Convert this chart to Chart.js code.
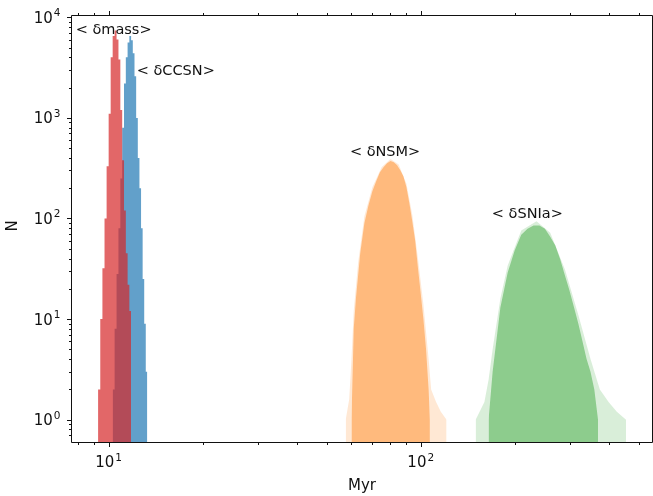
<!DOCTYPE html>
<html>
<head>
<meta charset="utf-8">
<script src="https://cdn.jsdelivr.net/npm/chart.js@4/dist/chart.umd.min.js"></script>
<style>
  html, body { margin: 0; padding: 0; background: #fff; overflow: hidden; }
  canvas { display: block; }
</style>
</head>
<body>
<canvas id="grafico" width="653" height="496"></canvas>
<script>
// <δmass> histogram: left bin edges (Myr) and counts, last edge closes the last bin
const massEdges = [9.25, 9.40, 9.55, 9.70, 9.85, 10.00, 10.15, 10.30, 10.45, 10.60, 10.75, 10.90, 11.05, 11.20, 11.35, 11.50, 11.65, 11.80];
const massCounts = [2, 10, 32, 100, 330, 1100, 4000, 6500, 7400, 6000, 3800, 1200, 380, 120, 45, 22, 12];

// <δCCSN> histogram
const ccsnEdges = [10.30, 10.45, 10.60, 10.75, 10.90, 11.05, 11.20, 11.35, 11.50, 11.65, 11.80, 11.95, 12.10, 12.25, 12.40, 12.55, 12.70, 12.85, 13.00, 13.15, 13.30];
const ccsnCounts = [2, 8, 28, 80, 250, 800, 2200, 4000, 5600, 6500, 5900, 4400, 2600, 1000, 400, 200, 80, 25, 9, 3];

// <δNSM>: dense core and the faint spread of the runs around it
const nsmMyr = [60, 61, 62, 64, 66, 68, 70, 72, 74, 76, 78, 80, 82, 84, 86, 88, 90, 92, 94, 96, 98, 100, 102, 104, 106, 107];
const nsmN = [1, 8, 16, 45, 90, 135, 186, 234, 288, 324, 355, 372, 363, 339, 302, 263, 204, 141, 93, 60, 32, 18, 10, 5, 2, 1];
const nsmHaloMyr = [57.5, 59, 60, 61, 63, 66, 70, 75, 80, 85, 90, 94, 98, 102, 106, 108, 112, 116, 121];
const nsmHaloN = [1, 1.6, 4, 12, 36, 105, 205, 325, 390, 345, 222, 108, 40, 14, 4, 2, 1.5, 1.2, 1];

// <δSNIa>
const sniaMyr = [165, 170, 180, 190, 200, 210, 220, 230, 240, 250, 260, 270, 280, 290, 300, 310, 320, 330, 340, 350, 360, 370];
const sniaN = [1, 3, 13, 29, 48, 69, 79, 85, 85, 79, 66, 54, 39, 27, 19, 13, 9, 6, 4, 3, 2, 1];
const sniaHaloMyr = [150, 160, 165, 170, 180, 190, 210, 235, 260, 290, 320, 350, 375, 400, 425, 455];
const sniaHaloN = [1, 1.5, 2.5, 5, 16, 34, 76, 94, 72, 31, 11, 4, 2, 1.5, 1.2, 1];

// text next to each peak
const peakLabels = ["< δmass>", "< δCCSN>", "< δNSM>", "< δSNIa>"];
const peakLabelMyr = [7.84, 12.3, 59.3, 169];
const peakLabelN = [7480, 2900, 452, 111];

// axes
const xRange = [7.63, 551];
const yRange = [0.63, 10300];
const xMajorTicks = [10, 100];
const yMajorTicks = [1, 10, 100, 1000, 10000];
const xTitle = "Myr";
const yTitle = "N";

const FONT = '"DejaVu Sans", sans-serif';

function stepPoints(edges, counts) {
  return edges.map((e, i) => ({ x: e, y: counts[Math.min(i, counts.length - 1)] }));
}

function curvePoints(xs, ys) {
  return xs.map((v, i) => ({ x: v, y: ys[i] }));
}

function minorTicks(range) {
  const out = [];
  for (let d = 0.1; d <= 10000; d *= 10) {
    for (let k = 2; k <= 9; k++) {
      const v = Math.round(k * d * 1000) / 1000;
      if (v >= range[0] && v <= range[1]) out.push(v);
    }
  }
  return out;
}

function area(points, color, stepped) {
  return {
    data: points,
    stepped: stepped ? "before" : false,
    fill: "start",
    backgroundColor: color,
    borderColor: "rgba(0,0,0,0)",
    borderWidth: 0,
    pointRadius: 0,
    tension: 0,
  };
}

// draws "10" with the exponent raised
function drawPow(ctx, exp, x, baseline, align) {
  ctx.font = "15px " + FONT;
  const bw = ctx.measureText("10").width;
  ctx.font = "10.5px " + FONT;
  const ew = ctx.measureText(String(exp)).width;
  const total = bw + 1 + ew;
  const x0 = align === "center" ? x - total / 2 : x - total;
  ctx.textAlign = "left";
  ctx.textBaseline = "alphabetic";
  ctx.font = "15px " + FONT;
  ctx.fillText("10", x0, baseline);
  ctx.font = "10.5px " + FONT;
  ctx.fillText(String(exp), x0 + bw + 1, baseline - 6.5);
}

// frame, ticks, tick labels, titles and peak labels
const axesPlugin = {
  id: "axesPlugin",
  afterDraw(chart) {
    const { ctx, chartArea: a } = chart;
    const xs = chart.scales.x;
    const ys = chart.scales.y;
    ctx.save();
    ctx.strokeStyle = "#111";
    ctx.fillStyle = "#111";
    ctx.lineWidth = 1;

    const L = a.left - 0.5, R = a.right + 0.5, T = a.top - 0.5, B = a.bottom + 0.5;
    ctx.beginPath();
    ctx.rect(L, T, R - L, B - T);
    ctx.stroke();

    const xTicks = xMajorTicks.map((v) => [v, 4.5]).concat(minorTicks(xRange).map((v) => [v, 2.5]));
    ctx.beginPath();
    xTicks.forEach(([v, len]) => {
      const px = Math.round(xs.getPixelForValue(v)) + 0.5;
      ctx.moveTo(px, B);
      ctx.lineTo(px, B + len);
      ctx.moveTo(px, T);
      ctx.lineTo(px, T - len);
    });
    const yTicks = yMajorTicks.map((v) => [v, 4.5]).concat(minorTicks(yRange).map((v) => [v, 2.5]));
    yTicks.forEach(([v, len]) => {
      const py = Math.round(ys.getPixelForValue(v)) + 0.5;
      ctx.moveTo(L, py);
      ctx.lineTo(L - len, py);
    });
    ctx.stroke();

    xMajorTicks.forEach((v) => {
      drawPow(ctx, Math.round(Math.log10(v)), xs.getPixelForValue(v), B + 24.5, "center");
    });
    yMajorTicks.forEach((v) => {
      drawPow(ctx, Math.round(Math.log10(v)), L - 11, ys.getPixelForValue(v) + 5.5, "right");
    });

    ctx.font = "15px " + FONT;
    ctx.textAlign = "center";
    ctx.textBaseline = "alphabetic";
    ctx.fillText(xTitle, (a.left + a.right) / 2, 490);
    ctx.save();
    ctx.translate(13, (a.top + a.bottom) / 2 - 3);
    ctx.rotate(-Math.PI / 2);
    ctx.textBaseline = "middle";
    ctx.fillText(yTitle, 0, 0);
    ctx.restore();

    ctx.font = "14.5px " + FONT;
    ctx.textAlign = "left";
    ctx.textBaseline = "middle";
    peakLabels.forEach((t, i) => {
      ctx.fillText(t, xs.getPixelForValue(peakLabelMyr[i]), ys.getPixelForValue(peakLabelN[i]));
    });
    ctx.restore();
  },
};

document.addEventListener("DOMContentLoaded", function () {
  const ctx = document.getElementById("grafico").getContext("2d");

  new Chart(ctx, {
    type: "line",
    data: {
      // first dataset is drawn on top
      datasets: [
        area(stepPoints(massEdges, massCounts), "rgba(214,39,40,0.7)", true),
        area(stepPoints(ccsnEdges, ccsnCounts), "rgba(31,119,180,0.7)", true),
        area(curvePoints(nsmMyr, nsmN), "rgba(255,127,14,0.44)", false),
        area(curvePoints(nsmHaloMyr, nsmHaloN), "rgba(255,127,14,0.18)", false),
        area(curvePoints(sniaMyr, sniaN), "rgba(44,160,44,0.44)", false),
        area(curvePoints(sniaHaloMyr, sniaHaloN), "rgba(44,160,44,0.18)", false),
      ],
    },
    options: {
      responsive: false,
      animation: false,
      layout: { padding: { left: 72, top: 16, right: 1, bottom: 54 } },
      plugins: { legend: { display: false }, tooltip: { enabled: false } },
      scales: {
        x: { type: "logarithmic", min: xRange[0], max: xRange[1], display: false },
        y: { type: "logarithmic", min: yRange[0], max: yRange[1], display: false },
      },
    },
    plugins: [axesPlugin],
  });
});
</script>
</body>
</html>
